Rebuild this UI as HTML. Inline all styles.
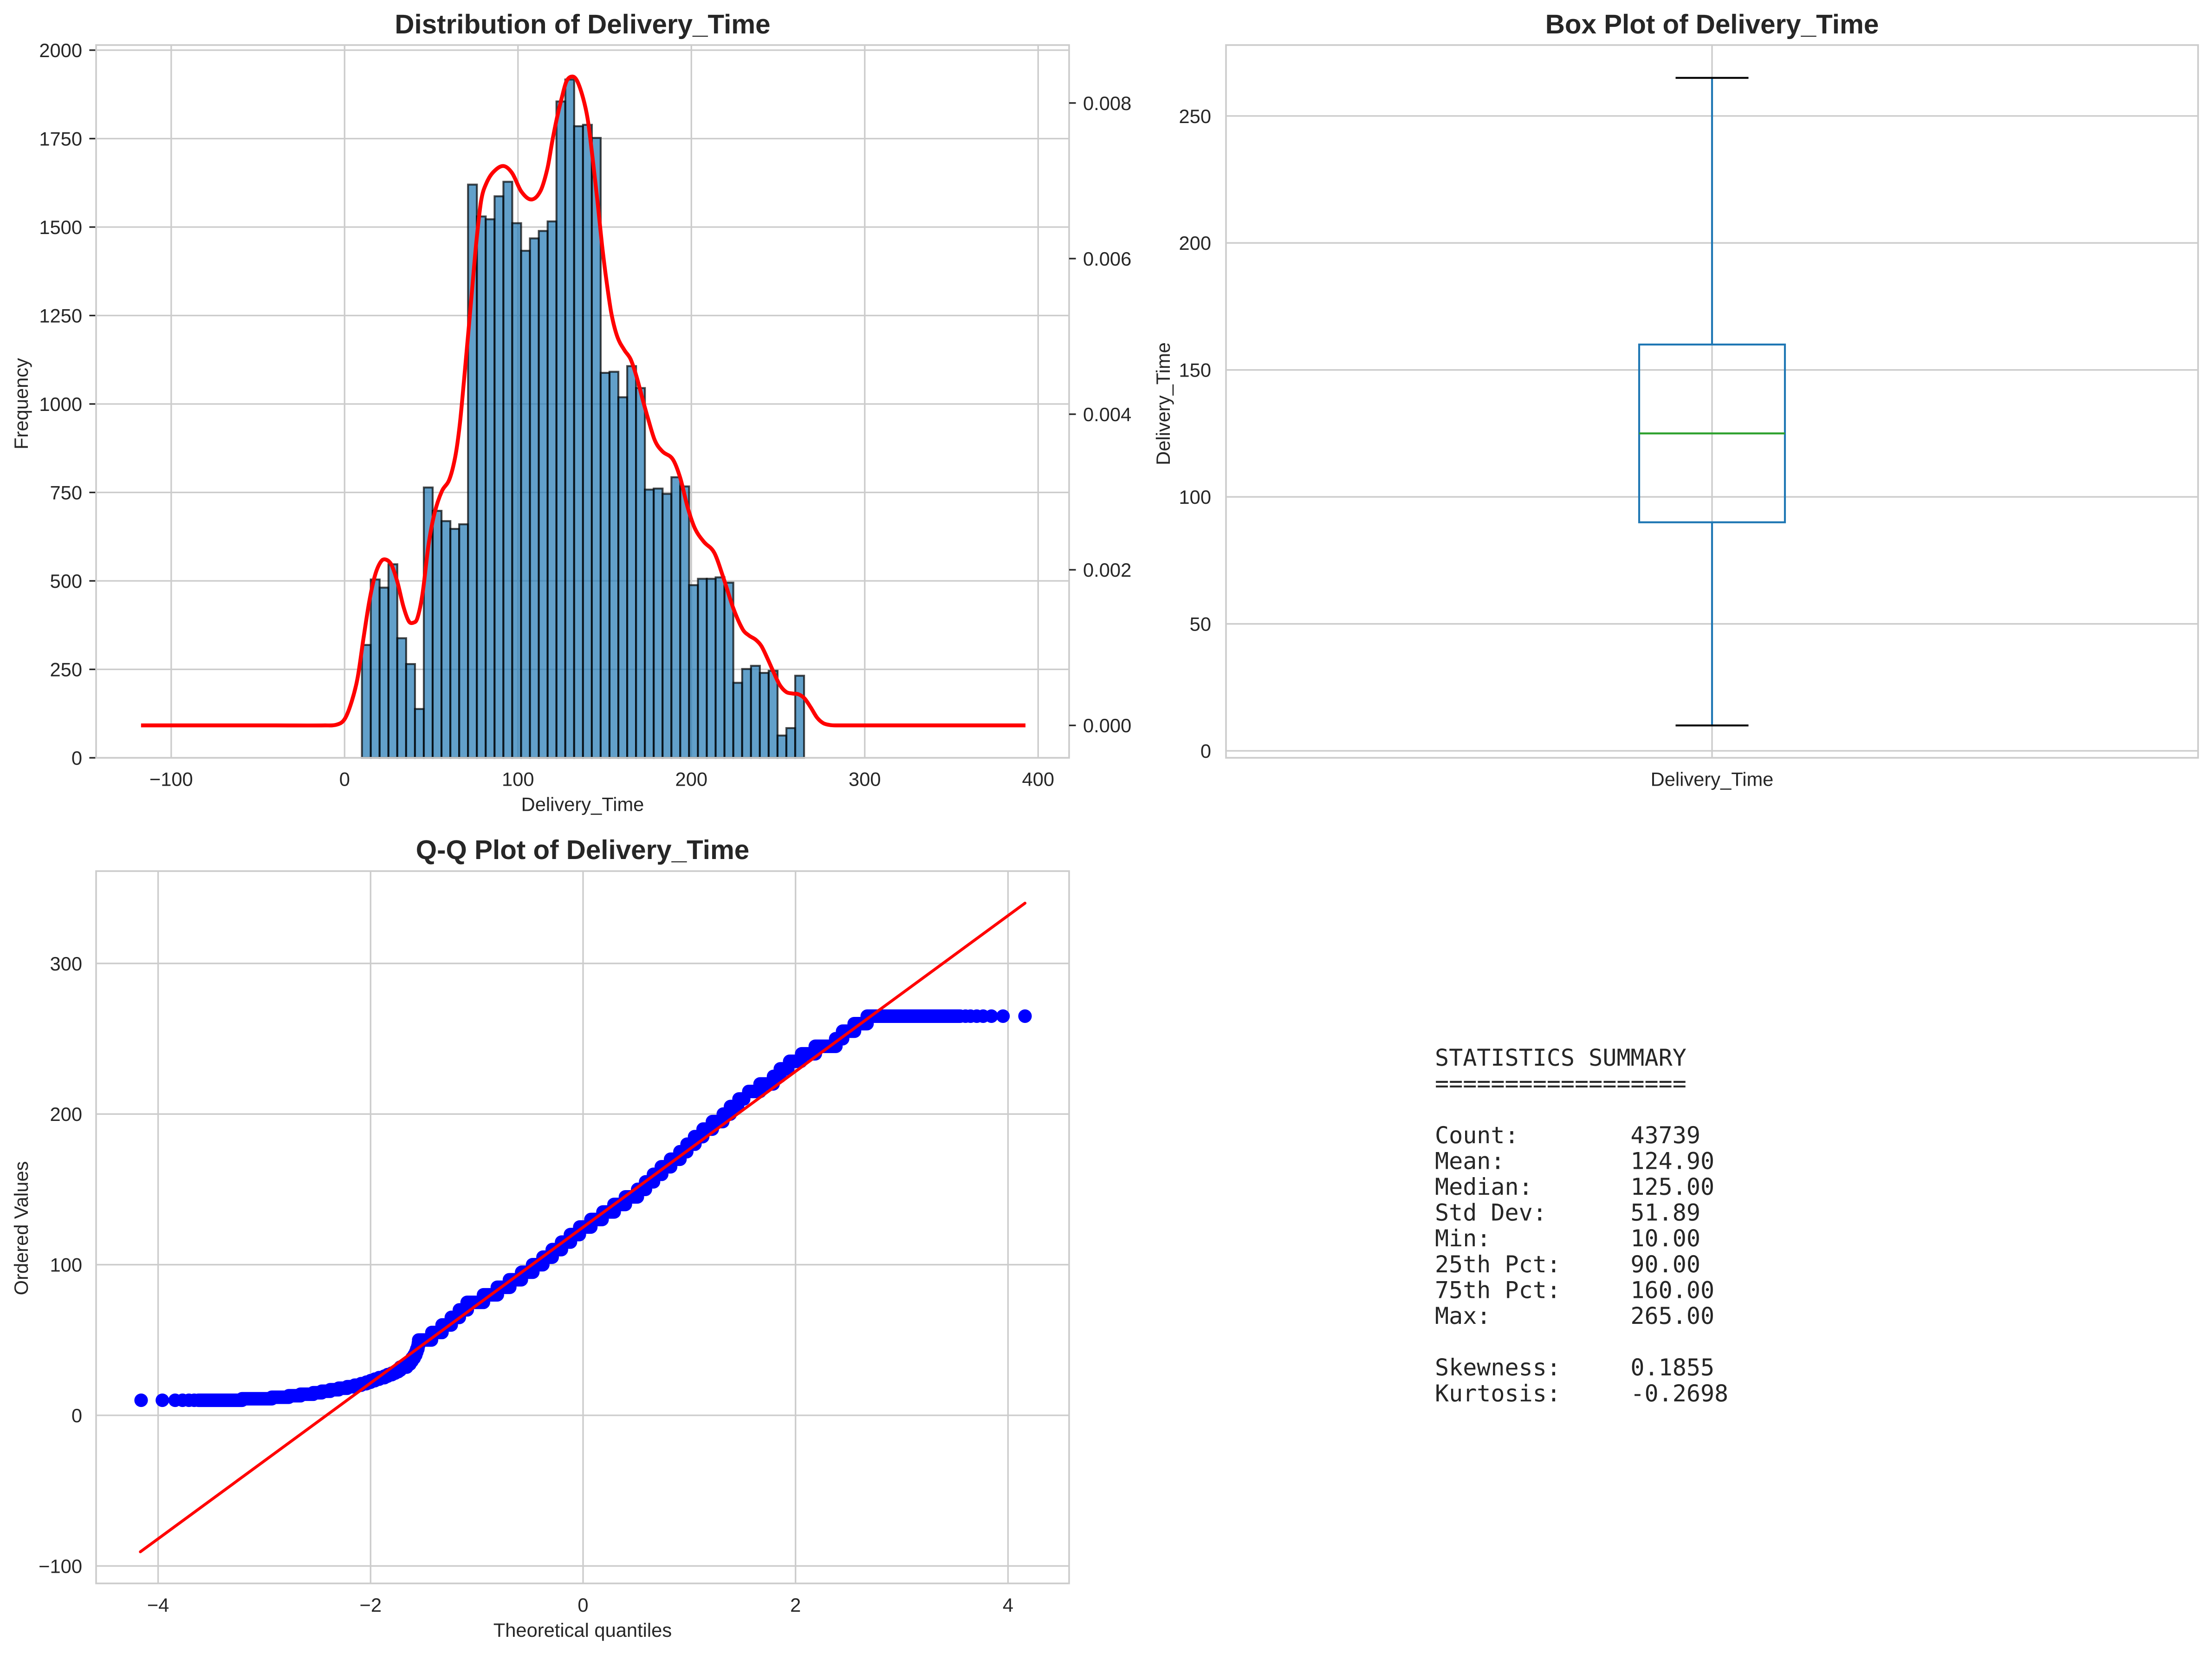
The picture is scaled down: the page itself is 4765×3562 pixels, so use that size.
<!DOCTYPE html>
<html lang="en">
<head>
<meta charset="utf-8">
<title>Delivery_Time distribution analysis</title>
<style>
  html, body { margin: 0; padding: 0; background: #ffffff; }
  svg { display: block; text-rendering: geometricPrecision; }
  text { font-family: "Liberation Sans", Arial, sans-serif; fill: #262626; }
  .tick { font-size: 41.67px; }
  .label { font-size: 41.67px; }
  .title { font-size: 58.33px; font-weight: bold; text-anchor: middle; }
  .mono { font-family: "DejaVu Sans Mono", "Liberation Mono", monospace; font-size: 50px; white-space: pre; }
</style>
</head>
<body>
<svg id="figure" xmlns="http://www.w3.org/2000/svg" width="4765" height="3562" viewBox="0 0 4765 3562">
  <rect x="0" y="0" width="4765" height="3562" fill="#ffffff"/>
  <g id="hist-panel"></g>
  <g id="box-panel"></g>
  <g id="qq-panel"></g>
  <g class="stats">
    <text class="mono" xml:space="preserve" x="3091" y="2295">STATISTICS SUMMARY</text>
    <text class="mono" xml:space="preserve" x="3091" y="2350.6">==================</text>
    <text class="mono" xml:space="preserve" x="3091" y="2461.8">Count:        43739</text>
    <text class="mono" xml:space="preserve" x="3091" y="2517.4">Mean:         124.90</text>
    <text class="mono" xml:space="preserve" x="3091" y="2573">Median:       125.00</text>
    <text class="mono" xml:space="preserve" x="3091" y="2628.6">Std Dev:      51.89</text>
    <text class="mono" xml:space="preserve" x="3091" y="2684.2">Min:          10.00</text>
    <text class="mono" xml:space="preserve" x="3091" y="2739.8">25th Pct:     90.00</text>
    <text class="mono" xml:space="preserve" x="3091" y="2795.4">75th Pct:     160.00</text>
    <text class="mono" xml:space="preserve" x="3091" y="2851">Max:          265.00</text>
    <text class="mono" xml:space="preserve" x="3091" y="2962.2">Skewness:     0.1855</text>
    <text class="mono" xml:space="preserve" x="3091" y="3017.8">Kurtosis:     -0.2698</text>
  </g>
</svg>
<script>
// ---------- Histogram data ----------
const histMin = 10;
const histMax = 265;
const binCounts = [319,504,481,547,338,265,138,764,698,669,647,660,1620,1530,1522,1587,1628,1511,1433,1468,1489,1516,1855,1917,1785,1789,1752,1088,1091,1019,1107,1045,758,761,746,793,767,488,506,506,510,495,212,251,260,240,246,63,84,232];
const histXTicks = [-100,0,100,200,300,400];
const histYTicks = [0,250,500,750,1000,1250,1500,1750,2000];
const densityTicks = ["0.000","0.002","0.004","0.006","0.008"];
const kdeX = [-117.4,-40,-11.3,-4.5,0,4,7.5,10.9,14.3,17.7,21.1,24,27.1,30.5,33.9,37,39.6,42,45,48.4,51.9,56.1,60.4,63.8,66.4,68.9,72,74,76.1,78.8,81.6,85.7,91.5,96.6,102,107.8,113,117,119.8,122.5,125.3,128,131.4,134.2,137.6,140.3,143,145.8,148.5,151.2,154,157.4,161.5,164.9,168.3,172.4,174.8,179,183.4,189.3,193.6,197.9,202.1,207.2,213.2,218.3,224.3,229.6,233.2,237.2,240.4,243.9,247.5,251,254.7,258.2,261.8,265.3,268.9,272.5,276,279.6,283.2,392.7];
const kdeDensity = [0,0,0,0.00001,0.00008,0.0003,0.00061,0.00112,0.0016,0.00194,0.00211,0.00213,0.00206,0.00184,0.00153,0.00134,0.00132,0.00138,0.0017,0.00232,0.00273,0.00301,0.00316,0.00345,0.00386,0.00444,0.00521,0.00572,0.00624,0.00675,0.00696,0.00711,0.00719,0.0071,0.00686,0.00676,0.00687,0.00716,0.00751,0.00781,0.00807,0.00828,0.00834,0.00828,0.00806,0.00778,0.0073,0.00675,0.00617,0.00569,0.00528,0.00499,0.00482,0.00471,0.00449,0.00415,0.00396,0.00366,0.00352,0.00342,0.00318,0.0028,0.00253,0.00236,0.00222,0.00191,0.0015,0.001235,0.001156,0.0011,0.00102,0.00086,0.00068,0.00052,0.00043,0.00041,0.0004,0.000346,0.00023,0.0001,0.00003,0.000006,0,0];

// ---------- Box plot data ----------
const boxWhiskerLow = 10;
const boxQ1 = 90;
const boxMedian = 125;
const boxQ3 = 160;
const boxWhiskerHigh = 265;
const boxYTicks = [0,50,100,150,200,250];

// ---------- Q-Q data ----------
const qqRunValue = [10,11,12,13,14,15,16,17,18,19,20,21,22,23,24,25,26,27,28,29,30,32,34,36,38,40,42,44,46,48,50,55,60,65,70,75,80,85,90,95,100,105,110,115,120,125,130,135,140,145,150,155,160,165,170,175,180,185,190,195,200,205,210,215,220,225,230,235,240,245,250,255,260,265];
const qqRunStart = [-3.62,-3.21,-2.93,-2.77,-2.66,-2.54,-2.46,-2.38,-2.30,-2.22,-2.15,-2.09,-2.04,-2.0,-1.96,-1.92,-1.87,-1.84,-1.80,-1.77,-1.74,-1.72,-1.66,-1.63,-1.61,-1.59,-1.575,-1.565,-1.555,-1.55,-1.547,-1.423,-1.327,-1.24,-1.164,-1.091,-0.937,-0.807,-0.693,-0.578,-0.475,-0.377,-0.29,-0.202,-0.119,-0.031,0.074,0.187,0.291,0.399,0.514,0.589,0.663,0.737,0.824,0.912,0.979,1.05,1.13,1.218,1.32,1.388,1.468,1.56,1.666,1.793,1.857,1.945,2.058,2.186,2.378,2.443,2.552,2.675];
const qqRunEnd = [-3.21,-2.93,-2.77,-2.66,-2.54,-2.46,-2.38,-2.30,-2.22,-2.15,-2.09,-2.04,-2.0,-1.96,-1.92,-1.87,-1.84,-1.80,-1.77,-1.74,-1.72,-1.66,-1.63,-1.61,-1.59,-1.575,-1.565,-1.555,-1.55,-1.547,-1.427,-1.328,-1.241,-1.165,-1.09,-0.938,-0.807,-0.69,-0.581,-0.473,-0.379,-0.291,-0.204,-0.119,-0.035,0.073,0.179,0.293,0.398,0.511,0.587,0.663,0.74,0.824,0.912,0.976,1.053,1.126,1.216,1.315,1.385,1.454,1.512,1.665,1.789,1.853,1.927,2.05,2.186,2.38,2.443,2.555,2.673,3.55];
const qqLowTailT = [-4.16,-3.96,-3.84,-3.77,-3.71,-3.66];
const qqLowTailV = [10,10,10,10,10,10];
const qqHighTailT = [3.6,3.647,3.706,3.766,3.844,3.953,4.16];
const qqHighTailV = [265,265,265,265,265,265,265];
const qqFitT = [-4.167,4.16];
const qqFitV = [-90.6,340];
const qqXTicks = [-4,-2,0,2,4];
const qqYTicks = [-100,0,100,200,300];

// ---------- Axis functions ----------
const SVGNS = "http://www.w3.org/2000/svg";
const histX = v => 742.3 + 3.735 * v;
const histY = v => 1632 - 0.762 * v;
const densityY = d => 1562.2 - 167550 * d;
const boxY = v => 1617 - 5.469 * v;
const qqX = t => 1256 + 228.85 * t;
const qqY = v => 3048 - 3.244 * v;
const HIST = { l: 207, r: 2303, t: 97, b: 1632 };
const BOX = { l: 2641, r: 4735, t: 97, b: 1632 };
const QQ = { l: 207, r: 2303, t: 1876, b: 3410 };
const BOX_CX = (BOX.l + BOX.r) / 2;
const fmtMinus = v => String(v).replace("-", "\u2212");

function shape(parent, tag, attrs) {
  const el = document.createElementNS(SVGNS, tag);
  for (const k in attrs) el.setAttribute(k, attrs[k]);
  parent.appendChild(el);
  return el;
}
function gridLine(parent, x1, y1, x2, y2) {
  return shape(parent, "line", { x1, y1, x2, y2, stroke: "#cccccc", "stroke-width": 3.33 });
}
function tickMark(parent, x1, y1, x2, y2) {
  return shape(parent, "line", { x1, y1, x2, y2, stroke: "#262626", "stroke-width": 3.33 });
}
function label(parent, cls, x, y, anchor, str, rot) {
  const el = shape(parent, "text", { class: cls, x, y, "text-anchor": anchor });
  if (rot) el.setAttribute("transform", "rotate(-90 " + x + " " + y + ")");
  el.textContent = str;
  return el;
}
function frame(parent, a) {
  return shape(parent, "rect", { x: a.l, y: a.t, width: a.r - a.l, height: a.b - a.t, fill: "none", stroke: "#cccccc", "stroke-width": 3.6 });
}
function smoothPath(xs, ys) {
  const n = xs.length;
  const slope = i => {
    const a = Math.max(0, i - 1), b = Math.min(n - 1, i + 1);
    return (ys[b] - ys[a]) / (xs[b] - xs[a]);
  };
  let d = "M" + xs[0].toFixed(2) + " " + ys[0].toFixed(2);
  for (let i = 0; i < n - 1; i++) {
    const h = xs[i + 1] - xs[i];
    const c1x = xs[i] + h / 3, c1y = ys[i] + slope(i) * h / 3;
    const c2x = xs[i + 1] - h / 3, c2y = ys[i + 1] - slope(i + 1) * h / 3;
    d += "C" + c1x.toFixed(2) + " " + c1y.toFixed(2) + " " + c2x.toFixed(2) + " " + c2y.toFixed(2) + " " + xs[i + 1].toFixed(2) + " " + ys[i + 1].toFixed(2);
  }
  return d;
}

// ---------- Histogram panel ----------
const hp = document.getElementById("hist-panel");
histXTicks.forEach(v => {
  const g = gridLine(hp, histX(v), HIST.t, histX(v), HIST.b);
  
  
  const t = label(hp, "tick", histX(v), 1692.5, "middle", fmtMinus(v));
  
  
});
histYTicks.forEach(v => {
  const g = gridLine(hp, HIST.l, histY(v), HIST.r, histY(v));
  
  
  const m = tickMark(hp, HIST.l - 14.6, histY(v), HIST.l, histY(v));
  
  
  const t = label(hp, "tick", 177, histY(v) + 15, "end", String(v));
  
  
});
const binWidth = (histMax - histMin) / binCounts.length;
binCounts.forEach((c, i) => {
  const x0 = histX(histMin + i * binWidth);
  const x1 = histX(histMin + (i + 1) * binWidth);
  const bar = shape(hp, "rect", { x: x0, y: histY(c), width: x1 - x0, height: histY(0) - histY(c), fill: "#1f77b4", "fill-opacity": 0.7, stroke: "#000000", "stroke-opacity": 0.7, "stroke-width": 4.17 });
  
  
});
const hf = frame(hp, HIST);


const kde = shape(hp, "path", { d: smoothPath(kdeX.map(histX), kdeDensity.map(densityY)), fill: "none", stroke: "#ff0000", "stroke-width": 8.33, "stroke-linejoin": "round", "stroke-linecap": "butt" });


densityTicks.forEach(s => {
  const y = densityY(parseFloat(s));
  const m = tickMark(hp, HIST.r, y, HIST.r + 14.6, y);
  
  
  const t = label(hp, "tick", 2333, y + 15, "start", s);
  
  
});
const ht = label(hp, "title", (HIST.l + HIST.r) / 2, 72, "middle", "Distribution of Delivery_Time");


const hxl = label(hp, "label", (HIST.l + HIST.r) / 2, 1746.7, "middle", "Delivery_Time");


const hyl = label(hp, "label", 60, (HIST.t + HIST.b) / 2 + 5, "middle", "Frequency", true);



// ---------- Box plot panel ----------
const bp = document.getElementById("box-panel");
boxYTicks.forEach(v => {
  const g = gridLine(bp, BOX.l, boxY(v), BOX.r, boxY(v));
  
  
  const t = label(bp, "tick", 2609, boxY(v) + 15, "end", String(v));
  
  
});
const bvg = gridLine(bp, BOX_CX, BOX.t, BOX_CX, BOX.b);


const bf = frame(bp, BOX);


const BOX_W = 314, CAP_W = 157;
const whiskerLow = shape(bp, "line", { x1: BOX_CX, x2: BOX_CX, y1: boxY(boxQ1), y2: boxY(boxWhiskerLow), stroke: "#1f77b4", "stroke-width": 4.17 });


const whiskerHigh = shape(bp, "line", { x1: BOX_CX, x2: BOX_CX, y1: boxY(boxQ3), y2: boxY(boxWhiskerHigh), stroke: "#1f77b4", "stroke-width": 4.17 });


const capLow = shape(bp, "line", { x1: BOX_CX - CAP_W / 2, x2: BOX_CX + CAP_W / 2, y1: boxY(boxWhiskerLow), y2: boxY(boxWhiskerLow), stroke: "#000000", "stroke-width": 4.17 });


const capHigh = shape(bp, "line", { x1: BOX_CX - CAP_W / 2, x2: BOX_CX + CAP_W / 2, y1: boxY(boxWhiskerHigh), y2: boxY(boxWhiskerHigh), stroke: "#000000", "stroke-width": 4.17 });


const boxRect = shape(bp, "rect", { x: BOX_CX - BOX_W / 2, y: boxY(boxQ3), width: BOX_W, height: boxY(boxQ1) - boxY(boxQ3), fill: "none", stroke: "#1f77b4", "stroke-width": 4.17 });


const medianLine = shape(bp, "line", { x1: BOX_CX - BOX_W / 2, x2: BOX_CX + BOX_W / 2, y1: boxY(boxMedian), y2: boxY(boxMedian), stroke: "#2ca02c", "stroke-width": 4.17 });


const bt = label(bp, "title", BOX_CX, 72, "middle", "Box Plot of Delivery_Time");


const bxt = label(bp, "tick", BOX_CX, 1692.5, "middle", "Delivery_Time");


const byl = label(bp, "label", 2520, (BOX.t + BOX.b) / 2 + 5, "middle", "Delivery_Time", true);



// ---------- Q-Q panel ----------
const qp = document.getElementById("qq-panel");
qqXTicks.forEach(v => {
  const g = gridLine(qp, qqX(v), QQ.t, qqX(v), QQ.b);
  
  
  const t = label(qp, "tick", qqX(v), 3471, "middle", fmtMinus(v));
  
  
});
qqYTicks.forEach(v => {
  const g = gridLine(qp, QQ.l, qqY(v), QQ.r, qqY(v));
  
  
  const t = label(qp, "tick", 177, qqY(v) + 15, "end", fmtMinus(v));
  
  
});
const qf = frame(qp, QQ);


const DOT_D = 29.2;
qqLowTailT.forEach((t, i) => {
  const c = shape(qp, "circle", { cx: qqX(t), cy: qqY(qqLowTailV[i]), r: DOT_D / 2, fill: "#0000ff" });
  
  
});
qqRunValue.forEach((v, i) => {
  const run = shape(qp, "line", { x1: qqX(qqRunStart[i]), x2: qqX(qqRunEnd[i]), y1: qqY(v), y2: qqY(v), stroke: "#0000ff", "stroke-width": DOT_D, "stroke-linecap": "round" });
  
  
});
qqHighTailT.forEach((t, i) => {
  const c = shape(qp, "circle", { cx: qqX(t), cy: qqY(qqHighTailV[i]), r: DOT_D / 2, fill: "#0000ff" });
  
  
});
const fit = shape(qp, "line", { x1: qqX(qqFitT[0]), y1: qqY(qqFitV[0]), x2: qqX(qqFitT[1]), y2: qqY(qqFitV[1]), stroke: "#ff0000", "stroke-width": 6.25, "stroke-linecap": "round" });


const qt = label(qp, "title", (QQ.l + QQ.r) / 2, 1850, "middle", "Q-Q Plot of Delivery_Time");


const qxl = label(qp, "label", (QQ.l + QQ.r) / 2, 3525, "middle", "Theoretical quantiles");


const qyl = label(qp, "label", 60, (QQ.t + QQ.b) / 2 + 2, "middle", "Ordered Values", true);


</script>
</body>
</html>
